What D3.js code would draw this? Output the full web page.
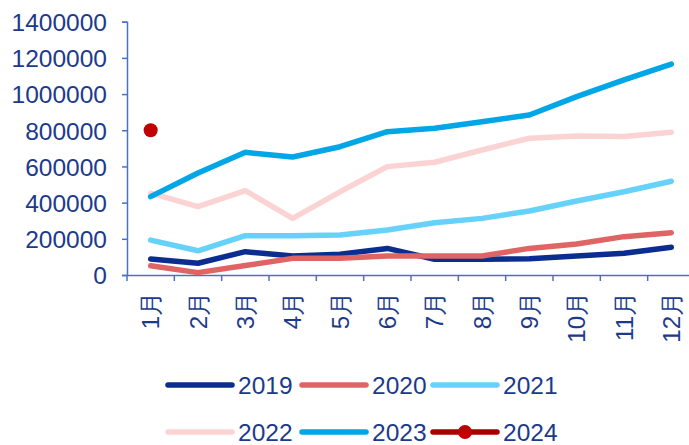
<!DOCTYPE html>
<html><head><meta charset="utf-8">
<script src="https://cdn.jsdelivr.net/npm/d3@7"></script>
<style>body{margin:0;background:#fff}svg{display:block}text{font-family:"Liberation Sans",Arial,sans-serif}</style>
</head><body><svg id="c" width="689" height="445"></svg>
<script>
const months = ["1月","2月","3月","4月","5月","6月","7月","8月","9月","10月","11月","12月"];
const yTicks = [0,200000,400000,600000,800000,1000000,1200000,1400000];
const s2019 = [88000,65000,129000,105000,115000,147000,87000,87000,90000,105000,120000,153000];
const s2020 = [51000,13000,52000,92000,92000,105000,105000,105000,147000,171000,212000,234000];
const s2021 = [193000,134000,217000,217000,221000,249000,289000,313000,354000,409000,460000,518000];
const s2022 = [452000,378000,466000,313000,460000,599000,623000,691000,756000,768000,765000,789000];
const s2023 = [433000,564000,678000,652000,709000,792000,811000,847000,884000,986000,1078000,1166000];
const s2024 = [800000];
const seriesNames = ["2019","2020","2021","2022","2023","2024"];

const series = [
  {name:seriesNames[0], values:s2019, color:"#0a2d8f"},
  {name:seriesNames[1], values:s2020, color:"#e06464"},
  {name:seriesNames[2], values:s2021, color:"#66d2fa"},
  {name:seriesNames[3], values:s2022, color:"#fbd3d3"},
  {name:seriesNames[4], values:s2023, color:"#00a6e6"},
  {name:seriesNames[5], values:s2024, color:"#a80000", dot:"#c00000"}
];
const textColor = "#1c3a8c", axisColor = "#4a72c4";
const svg = d3.select("#c");
const x = d3.scaleBand().domain(months).range([127, 695]);
const y = d3.scaleLinear().domain([0,1400000]).range([275, 21.7]);
const cx = m => x(m) + x.bandwidth()/2;

// y axis
const ya = svg.append("g").attr("transform","translate(127,0)")
  .call(d3.axisLeft(y).tickValues(yTicks).tickFormat(d3.format("d")).tickSize(5).tickPadding(15));
ya.select(".domain").attr("stroke",axisColor).attr("stroke-width",1.5);
ya.selectAll(".tick line").attr("stroke",axisColor).attr("stroke-width",1.5);
ya.selectAll(".tick text").attr("fill",textColor).style("font-size","24.5px").attr("dy","0.36em");

// x axis
const xa = svg.append("g").attr("transform","translate(0,275)")
  .call(d3.axisBottom(x).tickSize(0).tickSizeOuter(0));
xa.select(".domain").attr("stroke",axisColor).attr("stroke-width",1.5);
xa.selectAll(".tick text").attr("fill",textColor).style("font-size","24px")
  .attr("transform","rotate(-90)").attr("text-anchor","end").attr("x",-17).attr("y",0).attr("dy","0.36em");
// boundary ticks
svg.append("g").selectAll("line").data(months).join("line")
  .attr("x1",d=>x(d)).attr("x2",d=>x(d)).attr("y1",275).attr("y2",281)
  .attr("stroke",axisColor).attr("stroke-width",1.5);

// lines
const line = d3.line().x((d,i)=>cx(months[i])).y(d=>y(d));
series.forEach(s=>{
  if(s.values.length>1){
    svg.append("path").datum(s.values).attr("d",line).attr("fill","none")
      .attr("stroke",s.color).attr("stroke-width",5.5).attr("stroke-linejoin","round").attr("stroke-linecap","round");
  }
  if(s.dot){
    svg.append("g").selectAll("circle").data(s.values).join("circle")
      .attr("cx",(d,i)=>cx(months[i])).attr("cy",d=>y(d)).attr("r",7).attr("fill",s.dot);
  }
});

// legend
const lx = [168,302,433], ly = [385,432];
series.forEach((s,i)=>{
  const gx = lx[i%3], gy = ly[Math.floor(i/3)];
  const g = svg.append("g");
  g.append("line").attr("x1",gx).attr("x2",gx+64).attr("y1",gy).attr("y2",gy)
    .attr("stroke",s.color).attr("stroke-width",5.5).attr("stroke-linecap","round");
  if(s.dot) g.append("circle").attr("cx",gx+32).attr("cy",gy).attr("r",7).attr("fill",s.dot);
  g.append("text").attr("x",gx+70).attr("y",gy).attr("dy","0.36em").attr("fill",textColor)
    .style("font-size","24.5px").text(s.name);
});
</script></body></html>
